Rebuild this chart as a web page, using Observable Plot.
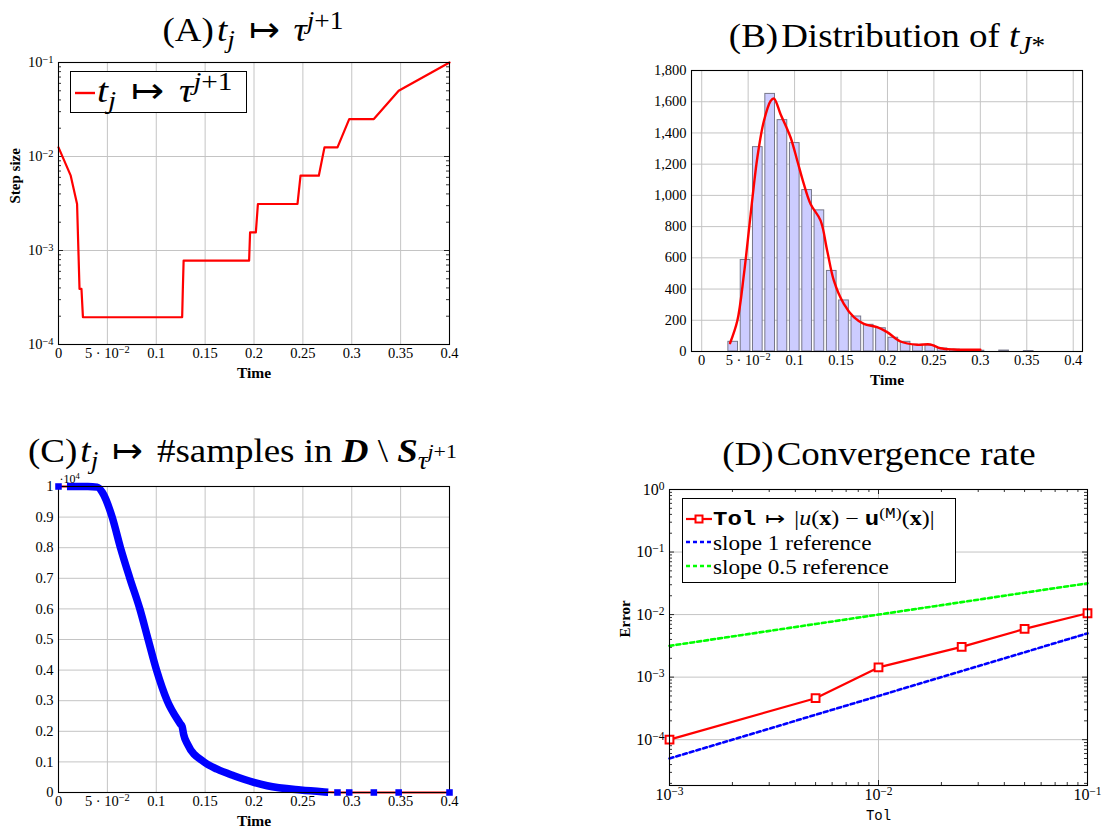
<!DOCTYPE html>
<html><head><meta charset="utf-8">
<script src="https://cdn.jsdelivr.net/npm/d3@7"></script>
<script src="https://cdn.jsdelivr.net/npm/@observablehq/plot@0.6"></script>
<style>
body{margin:0;background:#fff;width:1104px;height:829px;position:relative;overflow:hidden;font-family:"Liberation Serif",serif;color:#000}
.panel{position:absolute}
.title{position:absolute;font-size:33px;line-height:1;white-space:nowrap;width:600px;text-align:center;transform:scaleX(1.12);transform-origin:50% 50%}
.title sub,.leg sub{font-size:0.74em;vertical-align:-0.3em;line-height:0}
.title sup,.leg sup{font-size:0.74em;vertical-align:0.5em;line-height:0}
.title sub sup{font-size:0.8em;vertical-align:0.55em}
.legend{position:absolute;background:#fff;border:1px solid #000;box-sizing:border-box}
.leg{position:absolute;white-space:nowrap;line-height:1;transform-origin:0 50%}
.mono{font-family:"Liberation Mono",monospace}
.rel{margin:0 0.12em}
</style></head><body>
<script>
// ---------------- Panel A: step size vs time ----------------
const stepTime = [0, 0.0125, 0.019, 0.0215, 0.0235, 0.025, 0.1265, 0.1272, 0.128, 0.195, 0.196, 0.2019, 0.204, 0.2445, 0.2476, 0.2663, 0.2721, 0.2854, 0.2974, 0.3226, 0.348, 0.4];
const stepSize = [0.0125, 0.00625, 0.003125, 0.00039, 0.00039, 0.000195, 0.000195, 0.00039, 0.00078, 0.00078, 0.00156, 0.00156, 0.003125, 0.003125, 0.00625, 0.00625, 0.0125, 0.0125, 0.025, 0.025, 0.05, 0.1];
const timeTicks = [0, 0.05, 0.1, 0.15, 0.2, 0.25, 0.3, 0.35, 0.4];
const timeTickLabels = ["0", "5 · 10⁻²", "0.1", "0.15", "0.2", "0.25", "0.3", "0.35", "0.4"];
const aYTicks = [1e-4, 1e-3, 1e-2, 1e-1];
const aYTickLabels = ["10⁻⁴", "10⁻³", "10⁻²", "10⁻¹"];

// ---------------- Panel B: histogram of t_J* ----------------
const binCenters = [0.0339, 0.0472, 0.0604, 0.0737, 0.0869, 0.1002, 0.1135, 0.1267, 0.1400, 0.1532, 0.1665, 0.1798, 0.1930, 0.2063, 0.2195, 0.2328, 0.2461, 0.2593, 0.2726, 0.2858, 0.2991, 0.3124, 0.3256, 0.3389, 0.3521];
const binCounts = [62, 586, 1309, 1650, 1482, 1335, 1034, 904, 516, 327, 224, 171, 149, 88, 62, 43, 38, 19, 12, 8, 5, 0, 6, 0, 3];
const kdeTime = [0.0305, 0.0384, 0.0455, 0.0527, 0.0599, 0.067, 0.0742, 0.0778, 0.0849, 0.0957, 0.1029, 0.11, 0.1172, 0.128, 0.1351, 0.1423, 0.153, 0.1638, 0.1746, 0.1889, 0.1997, 0.214, 0.232, 0.246, 0.257, 0.2713, 0.3];
const kdeValue = [53, 198, 497, 880, 1243, 1478, 1605, 1620, 1520, 1371, 1222, 1072, 945, 838, 646, 454, 305, 220, 177, 156, 124, 64, 43, 45, 21, 13, 11];
const bYTicks = [0, 200, 400, 600, 800, 1000, 1200, 1400, 1600, 1800];
const bYTickLabels = ["0", "200", "400", "600", "800", "1,000", "1,200", "1,400", "1,600", "1,800"];

// ---------------- Panel C: #samples remaining ----------------
const denseTime = [0.0125, 0.03, 0.0396, 0.045, 0.0549, 0.0634, 0.073, 0.0832, 0.0917, 0.1003, 0.1112, 0.1245, 0.1265, 0.128, 0.132, 0.1487, 0.1623, 0.1794, 0.1998, 0.2135, 0.2476, 0.2721];
const denseCount = [10000, 10000, 9980, 9800, 9000, 8000, 7000, 6000, 5000, 4000, 3000, 2250, 2150, 1900, 1580, 1000, 760, 545, 330, 220, 80, 20];
const sparseTime = [0, 0.2854, 0.2974, 0.3226, 0.348, 0.4];
const sparseCount = [10000, 0, 0, 0, 0, 0];
const cYTicks = [0, 1000, 2000, 3000, 4000, 5000, 6000, 7000, 8000, 9000, 10000];
const cYTickLabels = ["0", "0.1", "0.2", "0.3", "0.4", "0.5", "0.6", "0.7", "0.8", "0.9", "1"];

// ---------------- Panel D: convergence ----------------
const tol = [1e-3, 5e-3, 1e-2, 2.5e-2, 5e-2, 1e-1];
const errorValues = [1.0e-4, 4.6e-4, 1.43e-3, 3.05e-3, 5.9e-3, 1.05e-2];
const slope1Ref = [5e-5, 2.5e-4, 5e-4, 1.25e-3, 2.5e-3, 5e-3];
const slopeHalfRef = [3.16e-3, 7.07e-3, 1e-2, 1.58e-2, 2.24e-2, 3.16e-2];
const dXTicks = [1e-3, 1e-2, 1e-1];
const dXTickLabels = ["10⁻³", "10⁻²", "10⁻¹"];
const dYTicks = [1e-4, 1e-3, 1e-2, 1e-1, 1];
const dYTickLabels = ["10⁻⁴", "10⁻³", "10⁻²", "10⁻¹", "10⁰"];

// ---------------- helpers ----------------
const FONT = '"Liberation Serif", serif';
const GRID = "#c4c4c4";
const fmt = (ticks, labels) => { const m = new Map(ticks.map((t, i) => [t, labels[i]])); return d => m.get(d); };
const zip = (xs, ys, kx, ky) => xs.map((x, i) => ({[kx]: x, [ky]: ys[i]}));
const SUPMAP = {"⁻": "−", "⁰": "0", "¹": "1", "²": "2", "³": "3", "⁴": "4", "⁵": "5", "⁶": "6", "⁷": "7", "⁸": "8", "⁹": "9"};
function fixSup(svg) {
  svg.querySelectorAll("text").forEach(t => {
    if (t.children.length) return;
    const m = t.textContent.match(/^([^⁻⁰¹²³⁴⁵⁶⁷⁸⁹]*)([⁻⁰¹²³⁴⁵⁶⁷⁸⁹]+)$/);
    if (!m) return;
    t.textContent = m[1];
    const ts = document.createElementNS("http://www.w3.org/2000/svg", "tspan");
    ts.setAttribute("dy", "-0.42em");
    ts.setAttribute("font-size", "0.72em");
    ts.textContent = [...m[2]].map(c => SUPMAP[c]).join("");
    t.appendChild(ts);
  });
}
function place(el, left, top) {
  fixSup(el);
  const d = document.createElement("div");
  d.className = "panel"; d.style.left = left + "px"; d.style.top = top + "px";
  d.appendChild(el); document.body.appendChild(d);
}
function html(s) { const t = document.createElement("template"); t.innerHTML = s.trim(); document.body.appendChild(t.content.firstChild); }
const minorOf = (domain) => d3.scaleLog().domain(domain).ticks().filter(v => v >= domain[0] && v <= domain[1] && Math.abs(Math.log10(v) - Math.round(Math.log10(v))) > 1e-9);
const yTicksInward = (vals, fw, len) => [
  Plot.ruleY(vals, {insetRight: fw - len, stroke: "#000", strokeWidth: 0.8}),
  Plot.ruleY(vals, {insetLeft: fw - len, stroke: "#000", strokeWidth: 0.8})];
const xTicksInward = (vals, fh, len) => [
  Plot.ruleX(vals, {insetTop: fh - len, stroke: "#000", strokeWidth: 0.8}),
  Plot.ruleX(vals, {insetBottom: fh - len, stroke: "#000", strokeWidth: 0.8})];
const style = {fontFamily: FONT, fontSize: "14.5px", background: "transparent", overflow: "visible"};
const xLabel = (s, dy, extra = {}) => Plot.text([s], {text: d => d, frameAnchor: "bottom", lineAnchor: "middle", dy, fontWeight: "bold", fontSize: 15.5, ...extra});

// ---------------- Panel A ----------------
{
  const fw = 391, fh = 282;
  const aMinor = minorOf([1e-4, 1e-1]);
  const p = Plot.plot({
    width: 460, height: 330, marginLeft: 58, marginRight: 11, marginTop: 12, marginBottom: 36, style,
    x: {domain: [0, 0.4]},
    y: {type: "log", domain: [1e-4, 1e-1]},
    marks: [
      Plot.gridX(timeTicks, {stroke: GRID, strokeOpacity: 1}),
      Plot.gridY(aYTicks, {stroke: GRID, strokeOpacity: 1}),
      ...yTicksInward(aMinor, fw, 3),
      ...yTicksInward(aYTicks, fw, 5),
      Plot.line(zip(stepTime, stepSize, "t", "s"), {x: "t", y: "s", stroke: "#ff0000", strokeWidth: 2.2}),
      Plot.frame({stroke: "#000", strokeWidth: 1.1}),
      Plot.axisX(timeTicks, {tickSize: 0, tickPadding: 3, tickFormat: fmt(timeTicks, timeTickLabels), label: null}),
      Plot.axisY(aYTicks, {tickSize: 0, tickPadding: 5, tickFormat: fmt(aYTicks, aYTickLabels), label: null}),
      xLabel("Time", 29),
      Plot.text(["Step size"], {text: d => d, frameAnchor: "left", lineAnchor: "middle", dx: -43, rotate: -90, fontWeight: "bold", fontSize: 15})
    ]
  });
  place(p, 0, 50);
}

// ---------------- Panel B ----------------
{
  const bins = zip(binCenters, binCounts, "t", "n");
  const kde = zip(kdeTime, kdeValue, "t", "v");
  const p = Plot.plot({
    width: 464, height: 340, marginLeft: 51, marginRight: 22, marginTop: 20, marginBottom: 39, style,
    x: {domain: [-0.011, 0.41]},
    y: {domain: [0, 1800]},
    marks: [
      Plot.gridX(timeTicks, {stroke: GRID, strokeOpacity: 1}),
      Plot.gridY(bYTicks, {stroke: GRID, strokeOpacity: 1}),
      Plot.rect(bins, {x1: d => d.t - 0.0052, x2: d => d.t + 0.0052, y1: d => 0, y2: "n", fill: "#ccccff", stroke: "#77778a", strokeWidth: 1}),
      Plot.line(kde, {x: "t", y: "v", stroke: "#ff0000", strokeWidth: 2.4, curve: "catmull-rom"}),
      Plot.frame({stroke: "#000", strokeWidth: 1.1}),
      Plot.axisX(timeTicks, {tickSize: 0, tickPadding: 3, tickFormat: fmt(timeTicks, timeTickLabels), label: null}),
      Plot.axisY(bYTicks, {tickSize: 0, tickPadding: 5, tickFormat: fmt(bYTicks, bYTickLabels), label: null}),
      xLabel("Time", 29)
    ]
  });
  place(p, 640, 50);
}

// ---------------- Panel C ----------------
{
  const dense = zip(denseTime, denseCount, "t", "n");
  const sparse = zip(sparseTime, sparseCount, "t", "n");
  const all = [sparse[0], ...dense, ...sparse.slice(1)];
  const p = Plot.plot({
    width: 460, height: 358, marginLeft: 58, marginRight: 11, marginTop: 16, marginBottom: 36, style,
    x: {domain: [0, 0.4]},
    y: {domain: [0, 10000]},
    marks: [
      Plot.gridX(timeTicks, {stroke: GRID, strokeOpacity: 1}),
      Plot.gridY(cYTicks, {stroke: GRID, strokeOpacity: 1}),
      Plot.line(all, {x: "t", y: "n", stroke: "#ff0000", strokeWidth: 2}),
      Plot.line(dense, {x: "t", y: "n", stroke: "#0000ff", strokeWidth: 7.5, strokeLinecap: "square", strokeLinejoin: "round", curve: "monotone-x"}),
      Plot.frame({stroke: "#000", strokeWidth: 1.1}),
      Plot.dot(sparse, {x: "t", y: "n", symbol: "square", r: 3.7, fill: "#0000ff", stroke: "none"}),
      Plot.axisX(timeTicks, {tickSize: 0, tickPadding: 3, tickFormat: fmt(timeTicks, timeTickLabels), label: null}),
      Plot.axisY(cYTicks, {tickSize: 0, tickPadding: 5, tickFormat: fmt(cYTicks, cYTickLabels), label: null}),
      Plot.text(["·10⁴"], {text: d => d, frameAnchor: "top-left", lineAnchor: "bottom", dy: -4, dx: 1, textAnchor: "start", fontSize: 12}),
      xLabel("Time", 29)
    ]
  });
  place(p, 0, 470);
}

// ---------------- Panel D ----------------
{
  const fw = 418, fh = 296;
  const yDom = [1.85e-5, 1];
  const err = zip(tol, errorValues, "x", "y");
  const s1 = zip(tol, slope1Ref, "x", "y");
  const s05 = zip(tol, slopeHalfRef, "x", "y");
  const p = Plot.plot({
    width: 504, height: 358, marginLeft: 69, marginRight: 17, marginTop: 19, marginBottom: 43, style,
    x: {type: "log", domain: [1e-3, 1e-1]},
    y: {type: "log", domain: yDom},
    marks: [
      Plot.gridX(dXTicks, {stroke: GRID, strokeOpacity: 1}),
      Plot.gridY(dYTicks, {stroke: GRID, strokeOpacity: 1}),
      ...xTicksInward(minorOf([1e-3, 1e-1]), fh, 3),
      ...xTicksInward(dXTicks, fh, 5),
      ...yTicksInward(minorOf(yDom), fw, 3),
      ...yTicksInward(dYTicks, fw, 5),
      Plot.line(s05, {x: "x", y: "y", stroke: "#00ff00", strokeWidth: 2.6, strokeDasharray: "4,3"}),
      Plot.line(s1, {x: "x", y: "y", stroke: "#0000ff", strokeWidth: 2.6, strokeDasharray: "4,3"}),
      Plot.line(err, {x: "x", y: "y", stroke: "#ff0000", strokeWidth: 2.2}),
      Plot.dot(err, {x: "x", y: "y", symbol: "square", r: 4.4, fill: "#fff", stroke: "#ff0000", strokeWidth: 2}),
      Plot.frame({stroke: "#000", strokeWidth: 1.1}),
      Plot.axisX(dXTicks, {tickSize: 0, tickPadding: 3, tickFormat: fmt(dXTicks, dXTickLabels), label: null, fontSize: 16}),
      Plot.axisY(dYTicks, {tickSize: 0, tickPadding: 5, tickFormat: fmt(dYTicks, dYTickLabels), label: null, fontSize: 16}),
      xLabel("Tol", 30, {fontFamily: '"Liberation Mono", monospace', fontWeight: "normal", fontSize: 14}),
      Plot.text(["Error"], {text: d => d, frameAnchor: "left", lineAnchor: "middle", dx: -44, rotate: -90, fontWeight: "bold", fontSize: 15})
    ]
  });
  place(p, 600, 470);
}

// ---------------- Titles ----------------
html('<div class="title" style="left:-47px;top:14px">(A)&#8202;<i>t</i><sub><i>j</i></sub> <span class="rel">↦</span> <i>τ</i><sup><i>j</i>+1</sup></div>');
html('<div class="title" style="left:587px;top:20px">(B)&#8202;Distribution of <i>t</i><sub><i>J</i>*</sub></div>');
html('<div class="title" style="left:28px;top:435px;text-align:left;transform-origin:0 50%">(C)&#8202;<i>t</i><sub><i>j</i></sub> <span class="rel">↦</span> #samples in <b><i>D</i></b> \\ <b><i>S</i></b><sub><i>τ</i><sup><i>j</i>+1</sup></sub></div>');
html('<div class="title" style="left:579px;top:438px">(D)&#8202;Convergence rate</div>');

// ---------------- Legends ----------------
html('<div class="legend" style="left:70px;top:71px;width:177px;height:42px"><svg style="position:absolute;left:3px;top:18px" width="22" height="6"><line x1="1" y1="3" x2="21" y2="3" stroke="#ff0000" stroke-width="2.4"/></svg><div class="leg" style="left:26px;top:3px;font-size:33px;transform:scaleX(1.2)"><i>t</i><sub><i>j</i></sub> <span class="rel">↦</span> <i>τ</i><sup><i>j</i>+1</sup></div></div>');
html('<div class="legend" style="left:682px;top:498px;width:274px;height:85px">' +
  '<svg style="position:absolute;left:2px;top:15px" width="28" height="10"><line x1="1" y1="5" x2="27" y2="5" stroke="#ff0000" stroke-width="2.2"/><rect x="10.5" y="1.5" width="7" height="7" fill="#fff" stroke="#ff0000" stroke-width="2"/></svg>' +
  '<div class="leg" style="left:30px;top:9px;font-size:20px;transform:scaleX(1.2)"><span class="mono" style="font-weight:bold">Tol</span> <span class="rel">↦</span> |<i>u</i>(<b>x</b>) − <span class="mono" style="font-weight:bold">u</span><sup>(<span class="mono">M</span>)</sup>(<b>x</b>)|</div>' +
  '<svg style="position:absolute;left:2px;top:40px" width="28" height="6"><line x1="1" y1="3" x2="27" y2="3" stroke="#0000ff" stroke-width="2.6" stroke-dasharray="4,3"/></svg>' +
  '<div class="leg" style="left:30px;top:34px;font-size:20px;transform:scaleX(1.16)">slope 1 reference</div>' +
  '<svg style="position:absolute;left:2px;top:64px" width="28" height="6"><line x1="1" y1="3" x2="27" y2="3" stroke="#00ff00" stroke-width="2.6" stroke-dasharray="4,3"/></svg>' +
  '<div class="leg" style="left:30px;top:58px;font-size:20px;transform:scaleX(1.16)">slope 0.5 reference</div></div>');
</script>
</body></html>
